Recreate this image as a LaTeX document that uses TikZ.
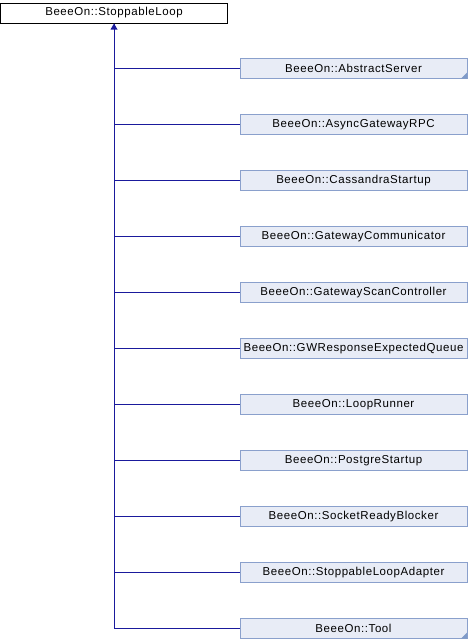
\documentclass[tikz,border=0pt]{standalone}
\usepackage{fontspec}
\setmainfont{Liberation Sans}
\newfontfamily\diafont[LetterSpace=5]{Liberation Sans}
\definecolor{edgeblue}{HTML}{1A1A9C}
\definecolor{boxborder}{HTML}{8AA0CC}
\definecolor{boxfill}{HTML}{E8ECF6}
\definecolor{cornerblue}{HTML}{7F9AC8}
\begin{document}
\begin{tikzpicture}[x=1pt,y=-1pt,
  basebox/.style={draw=black,fill=white,line width=1pt,minimum width=227pt,minimum height=20pt,inner sep=0pt,font=\diafont\fontsize{11.5}{12}\selectfont},
  childbox/.style={draw=boxborder,fill=boxfill,line width=1pt,minimum width=227pt,minimum height=20pt,inner sep=0pt,font=\diafont\fontsize{11.5}{12}\selectfont},
  edge/.style={draw=edgeblue,line width=1pt},
  corner/.style={fill=cornerblue,draw=none}]
\useasboundingbox (0,0) rectangle (468,640);
\node[basebox] (base) at (114,13) {BeeeOn::StoppableLoop};
\coordinate (trunk) at (114,628.5);
\foreach \i/\name/\lab in {0/as/AbstractServer,1/ag/AsyncGatewayRPC,2/cs/CassandraStartup,3/gc/GatewayCommunicator,4/gs/GatewayScanController,5/gw/GWResponseExpectedQueue,6/lr/LoopRunner,7/ps/PostgreStartup,8/sr/SocketReadyBlocker,9/sl/StoppableLoopAdapter,10/tl/Tool}{
  \node[childbox] (\name) at (353.5,68.5+56*\i) {BeeeOn::\lab};
  \coordinate (j\name) at (114,68.5+56*\i);
  \draw[edge] (j\name) -- (\name.west);
}
\draw[edge] (trunk) -- (base.south);
\fill[edgeblue] (114,23.5) -- (110.5,29.5) -- (117.5,29.5) -- cycle;
\fill[corner] ([xshift=-0.5pt,yshift=0.5pt]as.south east) -- ++(0,-6) -- ++(-6,6) -- cycle;
\fill[corner] ([xshift=-0.5pt,yshift=0.5pt]tl.south east) -- ++(0,-6) -- ++(-6,6) -- cycle;
\end{tikzpicture}
\end{document}
